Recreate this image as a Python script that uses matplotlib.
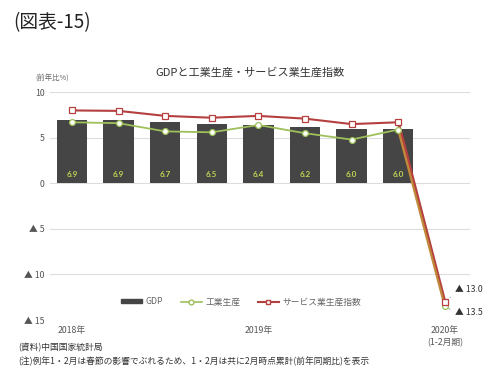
import matplotlib
matplotlib.use("Agg")
import matplotlib.pyplot as plt
from matplotlib.lines import Line2D
from matplotlib.patches import Patch
import numpy as np

plt.rcParams['font.family'] = ['Noto Sans CJK JP', 'DejaVu Sans']

periods = ["2018Q1", "2018Q2", "2018Q3", "2018Q4", "2019Q1", "2019Q2", "2019Q3", "2019Q4", "2020Jan-Feb"]
gdp = [6.9, 6.9, 6.7, 6.5, 6.4, 6.2, 6.0, 6.0]
industry = [6.7, 6.6, 5.7, 5.6, 6.4, 5.5, 4.8, 5.9, -13.5]
services = [8.0, 7.95, 7.4, 7.2, 7.4, 7.1, 6.5, 6.7, -13.0]
yticks = [10, 5, 0, -5, -10, -15]
ytick_labels = ["10", "5", "0", "▲ 5", "▲ 10", "▲ 15"]
xtick_pos = [0, 4, 8]
xtick_labels = ["2018年", "2019年", "2020年\n(1-2月期)"]

fig = plt.figure(figsize=(5, 3.81), dpi=100)
ax = fig.add_axes([0.1, 0.16, 0.84, 0.598])

red = "#B5403F"
green = "#9DC05A"
bar_c = "#454545"

x = np.arange(len(periods))
ax.bar(x[:len(gdp)], gdp, width=0.65, color=bar_c, zorder=2)
for xi, v in zip(x, gdp):
    ax.text(xi, 1.0, f"{v:.1f}", ha="center", va="center", fontsize=5.8,
            color="#C2D552", zorder=3, family=["Lato", "DejaVu Sans"], fontweight="bold")

# drop segment (thicker, overlapping)
ax.plot(x[7:9], services[7:9], color=red, lw=2.2, zorder=3)
ax.plot(x[7:9], industry[7:9], color="#C08A3A", lw=1.6, zorder=3)
ax.plot(x[:8], industry[:8], color=green, lw=1.3, zorder=4)
ax.plot(x[:8], services[:8], color=red, lw=1.5, zorder=4)
ax.plot(x, industry, ls="none", marker="o", ms=4.2, mfc="white", mec=green, mew=0.9, zorder=5)
ax.plot(x, services, ls="none", marker="s", ms=4.5, mfc="white", mec=red, mew=0.9, zorder=6)

ax.set_xlim(-0.47, 8.54)
ax.set_ylim(-15, 10)
ax.set_yticks(yticks)
ax.set_yticklabels(ytick_labels, fontsize=6.3, color="#555555")
ax.set_xticks(xtick_pos)
ax.set_xticklabels(xtick_labels, fontsize=6.3, color="#555555", linespacing=1.5)
ax.tick_params(length=0, pad=4)
ax.grid(axis="y", color="#DDDDDD", lw=0.8, zorder=0)
for s in ax.spines.values():
    s.set_visible(False)

# annotations for 2020
ax.annotate(f"▲ {abs(services[8]):.1f}", xy=(8.08, services[8] + 0.2), xytext=(8.22, -11.6),
            fontsize=6.3, color="#333333", va="center",
            arrowprops=dict(arrowstyle="-", color="#999999", lw=0.6,
                            connectionstyle="arc3,rad=0.3"))
ax.annotate(f"▲ {abs(industry[8]):.1f}", xy=(8.08, industry[8] - 0.2), xytext=(8.22, -14.2),
            fontsize=6.3, color="#333333", va="center",
            arrowprops=dict(arrowstyle="-", color="#999999", lw=0.6,
                            connectionstyle="arc3,rad=-0.3"))

handles = [Patch(color=bar_c, label="GDP"),
           Line2D([], [], color=green, marker="o", mfc="white", mec=green, ms=3.5, lw=1.2, label="工業生産"),
           Line2D([], [], color=red, marker="s", mfc="white", mec=red, ms=3.5, lw=1.5, label="サービス業生産指数")]
leg = ax.legend(handles=handles, loc="lower center", bbox_to_anchor=(0.455, 0.025), ncol=3,
                frameon=False, fontsize=6.3, handlelength=2.4, handleheight=0.35,
                columnspacing=2.0, handletextpad=0.4)
for t in leg.get_texts():
    t.set_color("#666666")

fig.text(0.026, 0.94, "(図表-15)", fontsize=13.5, color="#222222", va="center")
fig.text(0.5, 0.81, "GDPと工業生産・サービス業生産指数", fontsize=8, color="#333333",
         ha="center", va="center")
fig.text(0.07, 0.795, "(前年比%)", fontsize=5.3, color="#666666", va="center")
fig.text(0.036, 0.087, "(資料)中国国家統計局", fontsize=6.3, color="#333333", va="center")
fig.text(0.036, 0.052, "(注)例年1・2月は春節の影響でぶれるため、1・2月は共に2月時点累計(前年同期比)を表示",
         fontsize=6.3, color="#333333", va="center")

fig.savefig("out.png", dpi=100, facecolor="white")
